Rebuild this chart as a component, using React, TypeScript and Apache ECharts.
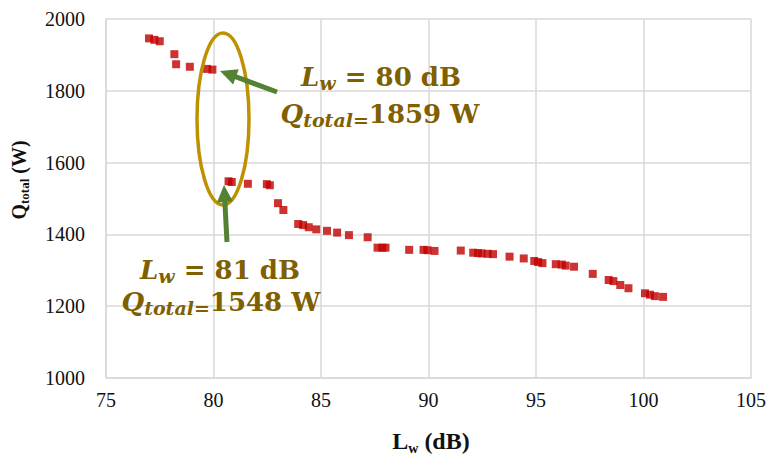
import React, { useEffect, useRef } from "react";
import * as echarts from "echarts";

// Sound power level Lw (dB) vs total heat Q_total (W)
const lwValues: number[] = [
  77.0, 77.25, 77.5, 78.18, 78.26, 78.9, 79.7, 79.95,
  80.7, 80.85, 81.6, 82.48, 82.62, 83.0, 83.25, 83.94, 84.17, 84.43, 84.78,
  85.28, 85.75, 86.3, 87.17, 87.63, 87.85, 88.0, 89.1, 89.77, 89.95, 90.28,
  91.5, 92.08, 92.3, 92.47, 92.75, 93.0, 93.77, 94.43, 94.92, 95.1, 95.3,
  95.92, 96.2, 96.38, 96.77, 97.64, 98.38, 98.6, 98.92, 99.3, 100.07, 100.3,
  100.53, 100.91,
];
const qTotalValues: number[] = [
  1946, 1942, 1938, 1902, 1874, 1867, 1861, 1859,
  1548, 1546, 1541, 1540, 1537, 1487, 1468, 1429, 1426, 1420, 1414,
  1410, 1405, 1398, 1392, 1363, 1363, 1363, 1357, 1357, 1356, 1354,
  1355, 1349, 1348, 1347, 1346, 1345, 1338, 1333, 1326, 1323, 1320,
  1317, 1316, 1313, 1310, 1290, 1273, 1270, 1259, 1250, 1236, 1232,
  1228, 1226,
];
const xTicks = { min: 75, max: 105, interval: 5 };
const yTicks = { min: 1000, max: 2000, interval: 200 };

const annotationTop = { lw: "80 dB", q: "1859 W" };
const annotationBottom = { lw: "81 dB", q: "1548 W" };

const TXT = "#7f6000";
const GREEN = "#548235";
const GOLD = "#bf9000";
const SERIF = "Liberation Serif";

function arrow(tail: [number, number], tip: [number, number]) {
  const dx = tip[0] - tail[0];
  const dy = tip[1] - tail[1];
  const len = Math.sqrt(dx * dx + dy * dy);
  const ux = dx / len;
  const uy = dy / len;
  const px = -uy;
  const py = ux;
  const hl = 17;
  const hw = 8;
  const bx = tip[0] - ux * hl;
  const by = tip[1] - uy * hl;
  return [
    {
      type: "line",
      shape: { x1: tail[0], y1: tail[1], x2: bx + ux * 2, y2: by + uy * 2 },
      style: { stroke: GREEN, lineWidth: 5 },
      z: 10,
    },
    {
      type: "polygon",
      shape: {
        points: [
          [tip[0], tip[1]],
          [bx + px * hw, by + py * hw],
          [bx - px * hw, by - py * hw],
        ],
      },
      style: { fill: GREEN },
      z: 10,
    },
  ];
}

const annRich = {
  i: { fontFamily: "DejaVu Serif", fontWeight: "bold", fontStyle: "italic", fontSize: 26, lineHeight: 30, fill: TXT },
  s: { fontFamily: "DejaVu Serif", fontWeight: "bold", fontStyle: "italic", fontSize: 19, lineHeight: 19, verticalAlign: "bottom", fill: TXT },
  n: { fontFamily: "DejaVu Serif", fontWeight: "bold", fontSize: 26, lineHeight: 30, fill: TXT },
};

function annText(text: string, x: number, y: number) {
  return {
    type: "text",
    z: 10,
    style: { text, x, y, align: "center", verticalAlign: "middle", rich: annRich, fill: TXT },
  };
}

export default function App() {
  const ref = useRef<HTMLDivElement>(null);
  useEffect(() => {
    if (!ref.current) return;
    const chart = echarts.init(ref.current, null, { renderer: "svg" });
    const data = lwValues.map((v, i) => [v, qTotalValues[i]]);
    const labelFont = { fontFamily: SERIF, fontSize: 20, color: "#111111" };
    chart.setOption({
      animation: false,
      backgroundColor: "#ffffff",
      textStyle: { fontFamily: SERIF },
      grid: { left: 106, right: 13, top: 19, bottom: 78, containLabel: false },
      xAxis: {
        type: "value",
        min: xTicks.min,
        max: xTicks.max,
        interval: xTicks.interval,
        axisLine: { show: true, lineStyle: { color: "#d9d9d9", width: 1.5 } },
        axisTick: { show: false },
        splitLine: { show: true, lineStyle: { color: "#d9d9d9", width: 1.5 } },
        axisLabel: { ...labelFont, margin: 12, formatter: (v: number) => String(v) },
      },
      yAxis: {
        type: "value",
        min: yTicks.min,
        max: yTicks.max,
        interval: yTicks.interval,
        axisLine: { show: true, lineStyle: { color: "#d9d9d9", width: 1.5 } },
        axisTick: { show: false },
        splitLine: { show: true, lineStyle: { color: "#d9d9d9", width: 1.5 } },
        axisLabel: { ...labelFont, margin: 21, formatter: (v: number) => String(v) },
      },
      series: [
        {
          type: "scatter",
          data,
          symbol: "rect",
          symbolSize: 8,
          itemStyle: { color: "#c00000" },
          z: 3,
        },
      ],
      graphic: [
        {
          type: "ellipse",
          shape: { cx: 223, cy: 119, rx: 26, ry: 86 },
          style: { fill: "none", stroke: GOLD, lineWidth: 3.5 },
          z: 9,
        },
        ...arrow([277, 92], [220, 71]),
        ...arrow([227, 242], [224, 185]),
        annText(`{i|L}{s|w}{n| = ${annotationTop.lw}}`, 381, 77),
        annText(`{i|Q}{s|total=}{n|${annotationTop.q}}`, 380, 114),
        annText(`{i|L}{s|w}{n| = ${annotationBottom.lw}}`, 220, 270),
        annText(`{i|Q}{s|total=}{n|${annotationBottom.q}}`, 221, 302),
        {
          type: "text",
          z: 10,
          style: {
            text: "{a|L}{b|w}{a| (dB)}",
            x: 431,
            y: 441,
            align: "center",
            verticalAlign: "middle",
            rich: {
              a: { fontFamily: SERIF, fontWeight: "bold", fontSize: 24, lineHeight: 28, fill: "#111111" },
              b: { fontFamily: SERIF, fontWeight: "bold", fontSize: 14, lineHeight: 14, verticalAlign: "bottom", fill: "#111111" },
            },
          },
        },
        {
          type: "text",
          z: 10,
          x: 19,
          y: 180,
          rotation: Math.PI / 2,
          style: {
            text: "{a|Q}{b|total}{a| (W)}",
            x: 0,
            y: 0,
            align: "center",
            verticalAlign: "middle",
            rich: {
              a: { fontFamily: SERIF, fontWeight: "bold", fontSize: 20, lineHeight: 24, fill: "#111111" },
              b: { fontFamily: SERIF, fontWeight: "bold", fontSize: 13, lineHeight: 13, verticalAlign: "bottom", fill: "#111111" },
            },
          },
        },
      ],
    });
    return () => chart.dispose();
  }, []);
  return (
    <div
      ref={ref}
      style={{ position: "fixed", left: 0, top: 0, width: 769, height: 456 }}
    />
  );
}
